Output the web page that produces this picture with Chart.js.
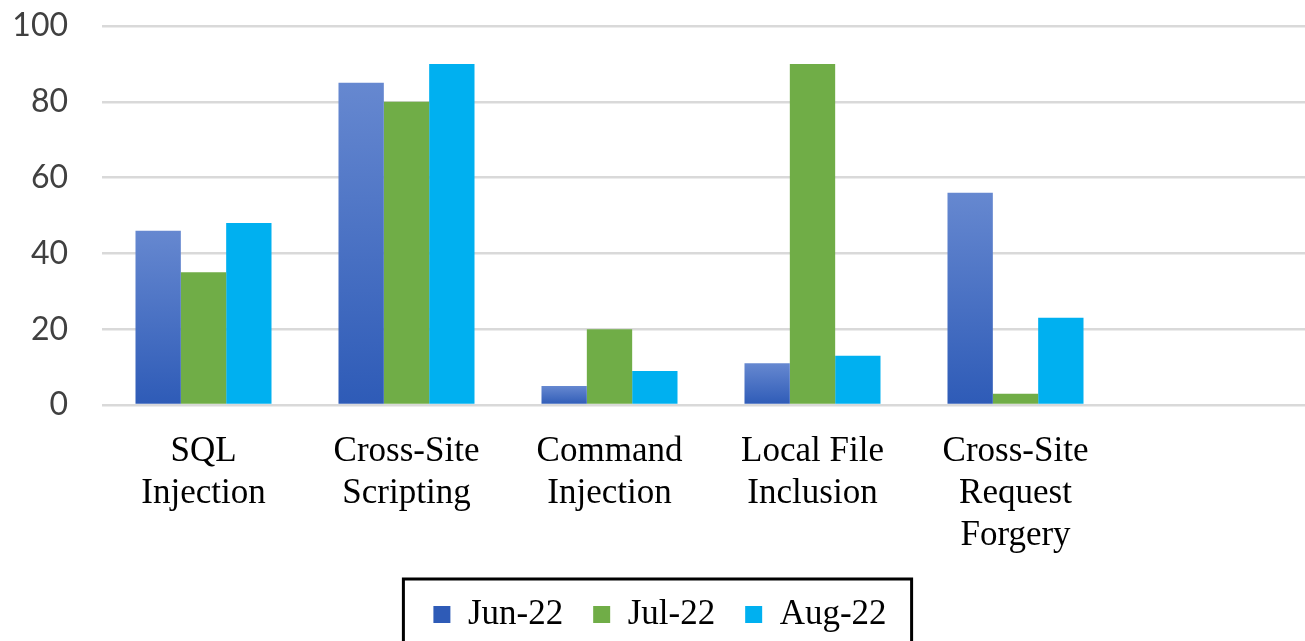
<!DOCTYPE html>
<html>
<head>
<meta charset="utf-8">
<script src="https://cdn.jsdelivr.net/npm/chart.js@4/dist/chart.umd.min.js"></script>
<style>
  html, body { margin: 0; padding: 0; background: #fff; overflow: hidden; }
  #wrap { width: 1320px; height: 642px; }
</style>
</head>
<body>
<div id="wrap"><canvas id="grafico"></canvas></div>
<script>
// categories (last slot is empty in the original)
const categorias = [
  ['SQL', 'Injection'],
  ['Cross-Site', 'Scripting'],
  ['Command', 'Injection'],
  ['Local File', 'Inclusion'],
  ['Cross-Site', 'Request', 'Forgery'],
  ''
];
const series = ['Jun-22', 'Jul-22', 'Aug-22'];
const jun22 = [46, 85, 5, 11, 56, null];
const jul22 = [35, 80, 20, 90, 3, null];
const aug22 = [48, 90, 9, 13, 23, null];
const yTicks = [0, 20, 40, 60, 80, 100];

const serif = "'Liberation Serif', 'Times New Roman', serif";

// gradient per bar for the Jun series
function gradienteJun(ctx) {
  const chart = ctx.chart;
  const val = ctx.raw;
  if (!chart.chartArea || ctx.dataIndex === undefined || val == null) return '#4472c4';
  const y = chart.scales.y;
  const topo = y.getPixelForValue(val);
  const base = y.getPixelForValue(0);
  const g = chart.ctx.createLinearGradient(0, topo, 0, base);
  g.addColorStop(0, '#6688d0');
  g.addColorStop(1, '#2e5bb7');
  return g;
}

// border around the legend like the original
const bordaLegenda = {
  id: 'bordaLegenda',
  afterDraw(chart) {
    const lg = chart.legend;
    if (!lg || !lg.legendHitBoxes.length) return;
    const hb = lg.legendHitBoxes;
    const esq = hb[0].left - 30;
    const dir = hb[hb.length - 1].left + hb[hb.length - 1].width + 25;
    const topo = hb[0].top - 18;
    const c = chart.ctx;
    c.save();
    c.strokeStyle = '#000';
    c.lineWidth = 3;
    c.strokeRect(esq, topo, dir - esq, chart.height - topo + 20);
    c.restore();
  }
};

new Chart(document.getElementById('grafico'), {
  type: 'bar',
  data: {
    labels: categorias,
    datasets: [
      { label: series[0], data: jun22, backgroundColor: gradienteJun },
      { label: series[1], data: jul22, backgroundColor: '#70ad47' },
      { label: series[2], data: aug22, backgroundColor: '#00b0f0' }
    ]
  },
  options: {
    responsive: true,
    maintainAspectRatio: false,
    animation: false,
    datasets: {
      bar: { categoryPercentage: 0.67, barPercentage: 1.0, borderWidth: 0 }
    },
    layout: { padding: 0 },
    scales: {
      x: {
        grid: { display: false, drawTicks: false },
        border: { display: false },
        ticks: {
          padding: 26,
          color: '#000',
          maxRotation: 0,
          autoSkip: false,
          font: { family: serif, size: 35, lineHeight: 1.2 }
        },
        afterFit(scale) { scale.height = 162; }
      },
      y: {
        min: 0,
        max: 100,
        afterBuildTicks(scale) { scale.ticks = yTicks.map(v => ({ value: v })); },
        grid: { color: '#d9d9d9', lineWidth: 2.5, drawTicks: false },
        border: { display: false },
        ticks: {
          padding: 34,
          color: '#404040',
          font: { family: "Lato, 'Liberation Sans', sans-serif", size: 32 }
        },
        afterFit(scale) {
          scale.width = 102;
          scale.paddingTop = 26;
          scale.paddingBottom = 0;
        }
      }
    },
    plugins: {
      tooltip: { enabled: false },
      legend: {
        position: 'bottom',
        labels: {
          boxWidth: 17,
          boxHeight: 17,
          padding: 30,
          color: '#000',
          font: { family: serif, size: 35 }
        }
      }
    }
  },
  plugins: [bordaLegenda]
});
</script>
</body>
</html>
